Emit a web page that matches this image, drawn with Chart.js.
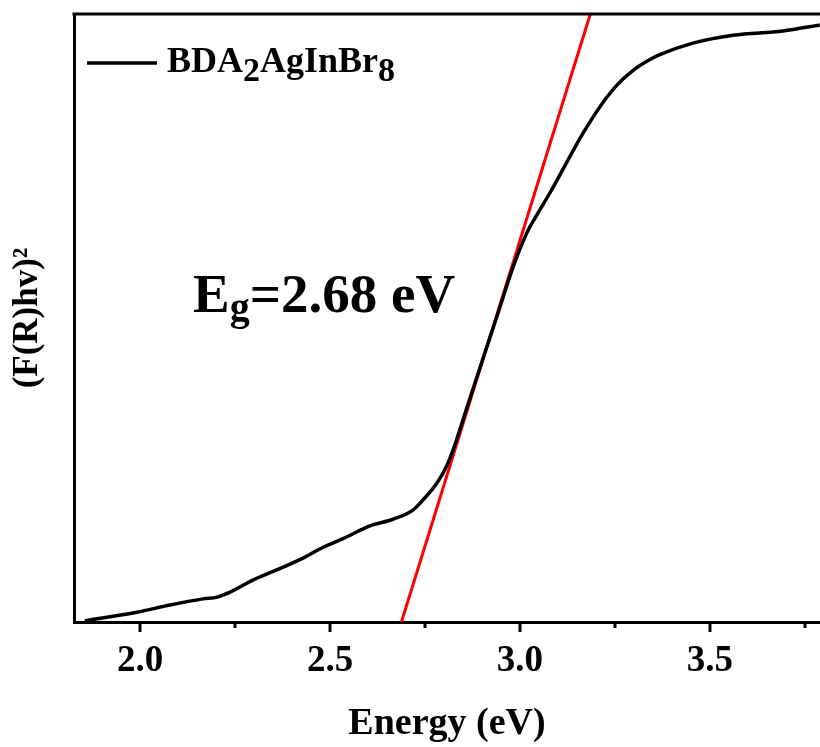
<!DOCTYPE html>
<html>
<head>
<meta charset="utf-8">
<script src="https://cdn.jsdelivr.net/npm/chart.js@4.4.1/dist/chart.umd.min.js"></script>
<style>
  body { margin: 0; background: #fff; }
  #wrap { width: 820px; height: 747px; position: relative; }
</style>
</head>
<body>
<div id="wrap"><canvas id="chart"></canvas></div>
<script>
// data
const energy = [1.855, 1.992, 2.079, 2.166, 2.203, 2.237, 2.297, 2.361, 2.429, 2.482, 2.534, 2.605, 2.666, 2.718, 2.745, 2.782, 2.808, 2.824, 2.861, 2.895, 2.939, 2.982, 3.018, 3.041, 3.079, 3.166, 3.211, 3.255, 3.297, 3.342, 3.368, 3.455, 3.561, 3.692, 3.789];
const absorb = [0.2, 1.6, 2.8, 3.8, 4.1, 4.9, 6.9, 8.6, 10.5, 12.3, 13.7, 15.8, 16.9, 18.4, 20.1, 22.9, 25.8, 28.3, 35.4, 41.9, 50.2, 58.4, 64.0, 66.6, 70.6, 80.4, 84.8, 88.3, 90.7, 92.5, 93.3, 95.2, 96.5, 97.2, 98.2];
const fitX = [2.688, 3.185];
const fitY = [0, 100];
const majorTicks = [2.0, 2.5, 3.0, 3.5];
const minorTicks = [2.25, 2.75, 3.25, 3.75];
const seriesName = ['BDA', '2', 'AgInBr', '8'];
const gapLabel = ['E', 'g', '=2.68 eV'];

const SERIF = '"Liberation Serif", "Times New Roman", serif';

const decorPlugin = {
    id: 'decor',
    afterDraw(chart) {
        const ctx = chart.ctx;
        const area = chart.chartArea;
        const xs = chart.scales.x;
        ctx.save();
        ctx.strokeStyle = '#000';
        ctx.lineWidth = 3;
        // top frame
        ctx.beginPath();
        ctx.moveTo(area.left - 1.5, area.top);
        ctx.lineTo(area.right, area.top);
        ctx.stroke();
        // tick marks
        majorTicks.concat(minorTicks).forEach(v => {
            const px = Math.round(xs.getPixelForValue(v));
            const len = majorTicks.includes(v) ? 10 : 6;
            ctx.beginPath();
            ctx.moveTo(px, area.bottom);
            ctx.lineTo(px, area.bottom + len);
            ctx.stroke();
        });
        // legend
        ctx.lineWidth = 3.5;
        ctx.beginPath();
        ctx.moveTo(87, 63);
        ctx.lineTo(157, 63);
        ctx.stroke();
        ctx.fillStyle = '#000';
        ctx.textBaseline = 'alphabetic';
        let x = 167;
        seriesName.forEach((s, i) => {
            const sub = i % 2 === 1;
            ctx.font = `bold ${sub ? 34 : 36}px ${SERIF}`;
            ctx.fillText(s, x, sub ? 81 : 72);
            x += ctx.measureText(s).width;
        });
        // band gap label
        x = 193;
        ctx.font = `bold 55px ${SERIF}`;
        ctx.fillText(gapLabel[0], x, 312);
        x += ctx.measureText(gapLabel[0]).width;
        ctx.font = `bold 40px ${SERIF}`;
        ctx.fillText(gapLabel[1], x, 320);
        x += ctx.measureText(gapLabel[1]).width;
        ctx.font = `bold 55px ${SERIF}`;
        ctx.fillText(gapLabel[2], x, 312);
        ctx.restore();
    }
};

new Chart(document.getElementById('chart'), {
    type: 'scatter',
    data: {
        datasets: [{
            label: 'BDA2AgInBr8',
            data: energy.map((e, i) => ({ x: e, y: absorb[i] })),
            showLine: true,
            borderColor: '#000',
            borderWidth: 3.5,
            pointRadius: 0,
            cubicInterpolationMode: 'monotone'
        }, {
            label: 'fit',
            data: fitX.map((e, i) => ({ x: e, y: fitY[i] })),
            showLine: true,
            borderColor: '#ff0000',
            borderWidth: 3,
            pointRadius: 0
        }]
    },
    options: {
        responsive: true,
        maintainAspectRatio: false,
        animation: false,
        layout: { padding: { top: 14, right: 0, left: 0, bottom: 0 } },
        plugins: {
            legend: { display: false },
            tooltip: { enabled: false }
        },
        scales: {
            x: {
                type: 'linear',
                min: 1.8263,
                max: 3.7895,
                afterBuildTicks: s => { s.ticks = majorTicks.map(v => ({ value: v })); },
                afterFit: s => { s.height = 125; },
                grid: { display: false, drawTicks: false },
                border: { display: true, color: '#000', width: 3 },
                ticks: {
                    padding: 17,
                    color: '#000',
                    font: { family: SERIF, size: 37, weight: 'bold' },
                    callback: v => Number(v).toFixed(1)
                },
                title: {
                    display: true,
                    text: 'Energy (eV)',
                    color: '#000',
                    padding: { top: 0, bottom: 0 },
                    font: { family: SERIF, size: 38, weight: 'bold' }
                }
            },
            y: {
                min: 0,
                max: 100,
                afterFit: s => { s.width = 74; },
                grid: { display: false, drawTicks: false },
                border: { display: true, color: '#000', width: 3 },
                ticks: { display: false },
                title: {
                    display: true,
                    text: '(F(R)hv)²',
                    color: '#000',
                    padding: { top: 7, bottom: 0 },
                    font: { family: SERIF, size: 35, weight: 'bold' }
                }
            }
        }
    },
    plugins: [decorPlugin]
});
</script>
</body>
</html>
